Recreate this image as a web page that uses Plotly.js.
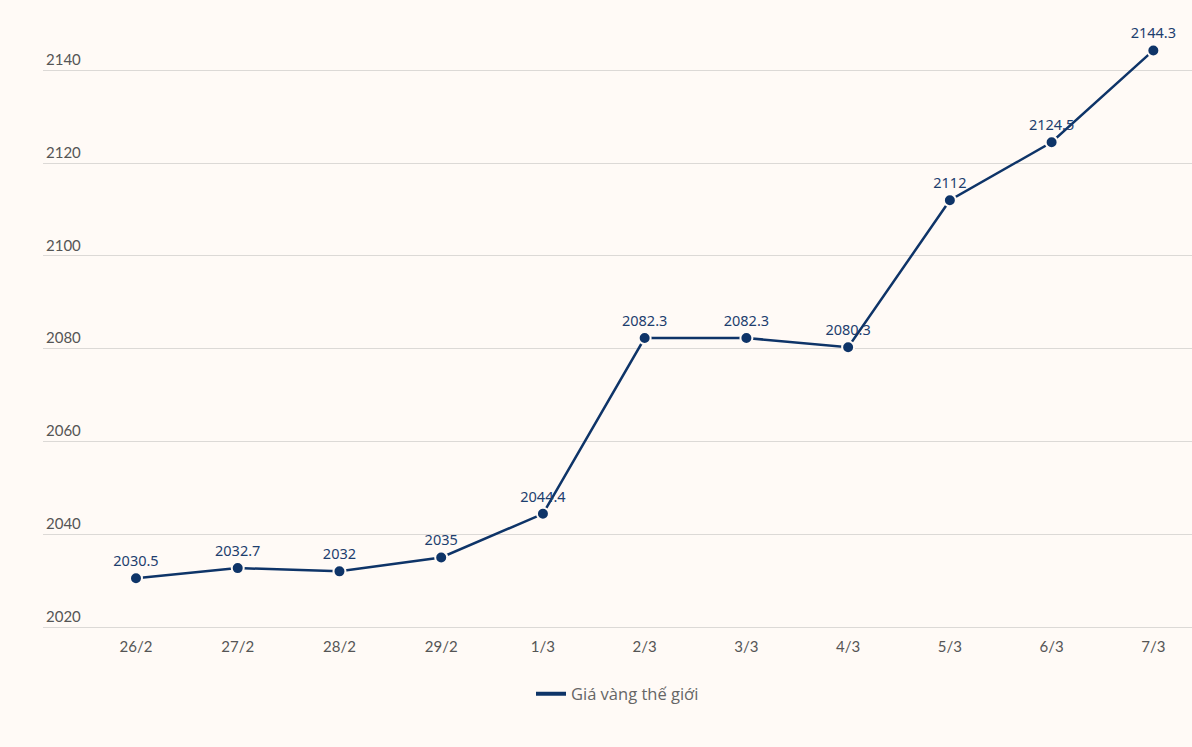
<!DOCTYPE html>
<html>
<head>
<meta charset="utf-8">
<script src="https://cdn.plot.ly/plotly-3.0.1.min.js"></script>
<style>
html,body{margin:0;padding:0;background:#fffaf6;}
#chart{width:1192px;height:747px;}
</style>
</head>
<body>
<div id="chart"></div>
<script>
const categories = ["26/2","27/2","28/2","29/2","1/3","2/3","3/3","4/3","5/3","6/3","7/3"];
const values = [2030.5, 2032.7, 2032, 2035, 2044.4, 2082.3, 2082.3, 2080.3, 2112, 2124.5, 2144.3];
const labels = ["2030.5","2032.7","2032","2035","2044.4","2082.3","2082.3","2080.3","2112","2124.5","2144.3"];
const seriesName = "Giá vàng thế giới";
const yTicks = [2020, 2040, 2060, 2080, 2100, 2120, 2140];

const trace = {
  x: categories,
  y: values,
  type: "scatter",
  mode: "lines+markers+text",
  name: seriesName,
  showlegend: false,
  text: labels,
  textposition: "top center",
  textfont: {family: "Noto Sans, sans-serif", size: 14.5, color: "#1d3e6e"},
  line: {color: "#0e3468", width: 2.5},
  marker: {color: "#0e3468", size: 12, line: {color: "#fffaf6", width: 2}},
  cliponaxis: false,
  hoverinfo: "x+y"
};

const legendTrace = {
  x: [null],
  y: [null],
  type: "scatter",
  mode: "lines",
  name: seriesName,
  line: {color: "#0e3468", width: 4},
  hoverinfo: "skip"
};

const layout = {
  width: 1192, height: 747,
  paper_bgcolor: "#fffaf6",
  plot_bgcolor: "#fffaf6",
  margin: {l: 43, r: 0, t: 24, b: 120},
  showlegend: true,
  legend: {orientation: "h", x: 0.5, xanchor: "center", y: -0.082, yanchor: "top",
           font: {family: "Open Sans, sans-serif", size: 16.5, color: "#666"}},
  xaxis: {
    type: "category",
    range: [-0.914, 10.38],
    showgrid: false,
    zeroline: false,
    showline: true,
    linecolor: "#dcd9d6",
    linewidth: 1,
    ticks: "",
    tickfont: {family: "Lato, sans-serif", size: 15, color: "#555"},
    ticklabelstandoff: 6
  },
  yaxis: {
    range: [2020, 2150],
    tickvals: yTicks,
    ticklabelposition: "inside top",
    showgrid: true,
    gridcolor: "#dcd9d6",
    gridwidth: 1,
    zeroline: false,
    showline: false,
    ticks: "",
    tickfont: {family: "Lato, sans-serif", size: 15, color: "#555"}
  }
};

Plotly.newPlot("chart", [trace, legendTrace], layout, {displayModeBar: false});
</script>
</body>
</html>
